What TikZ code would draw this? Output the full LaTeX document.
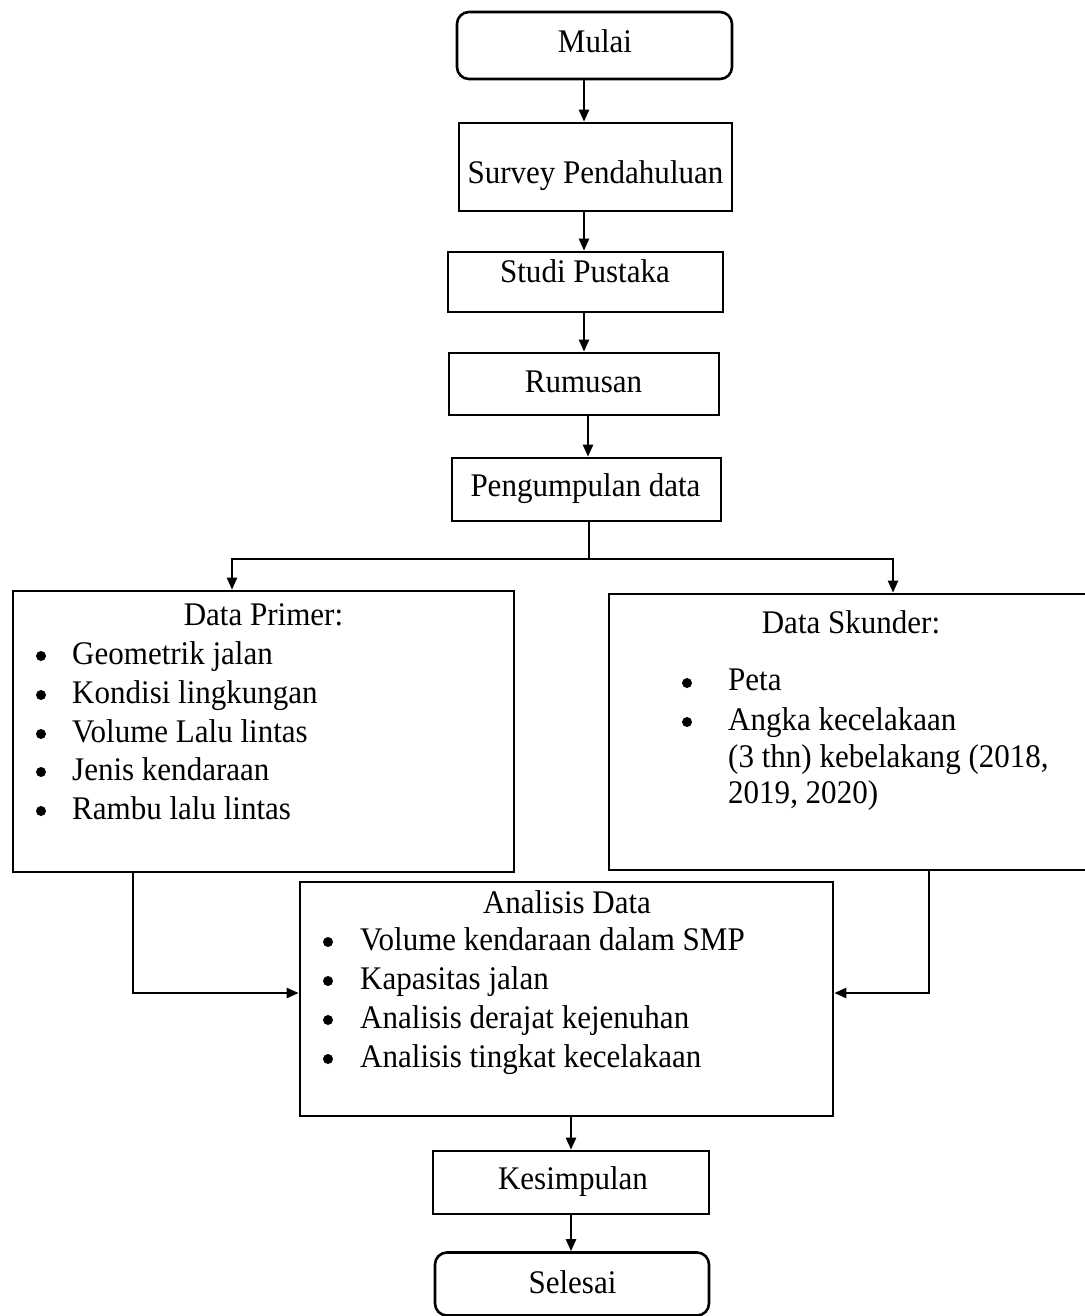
\documentclass[tikz,border=0pt]{standalone}
\usepackage{fontspec}
\setmainfont{Liberation Serif}[FakeStretch=0.94]
\usetikzlibrary{arrows.meta}
\begin{document}
\begin{tikzpicture}[x=1pt,y=-1pt,
  box/.style={draw, line width=2.6pt, inner sep=0pt},
  rbox/.style={box, rounded corners=12pt},
  txt/.style={font=\fontsize{33}{39}\selectfont, inner sep=0pt},
  bul/.style={circle, fill, inner sep=0pt, minimum size=10pt},
  arr/.style={line width=2.2pt, -{Triangle[length=12pt,width=10pt]}},
  ln/.style={line width=2.2pt}]
\useasboundingbox (0,0) rectangle (1084,1316);

% boxes
\node[rbox, minimum width=275pt, minimum height=67pt] (mulai) at (594.5,45.5) {};
\node[box, minimum width=273pt, minimum height=88pt] (survey) at (595.5,167) {};
\node[box, minimum width=275pt, minimum height=60pt] (studi) at (585.5,282) {};
\node[box, minimum width=270pt, minimum height=62pt] (rumusan) at (584,384) {};
\node[box, minimum width=269pt, minimum height=63pt] (kumpul) at (586.5,489.5) {};
\node[box, minimum width=501pt, minimum height=281pt] (primer) at (263.5,731.5) {};
\node[box, minimum width=481pt, minimum height=276pt] (skunder) at (849.5,732) {};
\node[box, minimum width=533pt, minimum height=234pt] (analisis) at (566.5,999) {};
\node[box, minimum width=276pt, minimum height=63pt] (kesimpulan) at (571,1182.5) {};
\node[rbox, minimum width=274pt, minimum height=63pt] (selesai) at (572,1284) {};

% simple texts
\node[txt, anchor=base] (tmulai) at (595,53) {Mulai};
\node[txt, anchor=base] (tsurvey) at (595.5,183) {Survey Pendahuluan};
\node[txt, anchor=base] (tstudi) at (585,282) {Studi Pustaka};
\node[txt, anchor=base] (trumusan) at (583.5,392) {Rumusan};
\node[txt, anchor=base] (tkumpul) at (585.5,496) {Pengumpulan data};
\node[txt, anchor=base] (tkesimpulan) at (573,1189) {Kesimpulan};
\node[txt, anchor=base] (tselesai) at (572.5,1293) {Selesai};

% Data Primer
\node[txt, anchor=base] (tprimer) at (263.5,625) {Data Primer:};
\node[bul] (pb1) at (41,656) {};
\node[bul] (pb2) at (41,695) {};
\node[bul] (pb3) at (41,734) {};
\node[bul] (pb4) at (41,772) {};
\node[bul] (pb5) at (41,811) {};
\node[txt, anchor=base west] (pt1) at (72,664) {Geometrik jalan};
\node[txt, anchor=base west] (pt2) at (72,703) {Kondisi lingkungan};
\node[txt, anchor=base west] (pt3) at (72,742) {Volume Lalu lintas};
\node[txt, anchor=base west] (pt4) at (72,780) {Jenis kendaraan};
\node[txt, anchor=base west] (pt5) at (72,819) {Rambu lalu lintas};

% Data Skunder
\node[txt, anchor=base] (tskunder) at (851,633) {Data Skunder:};
\node[bul] (sb1) at (687,683) {};
\node[bul] (sb2) at (687,722) {};
\node[txt, anchor=base west] (st1) at (728,690) {Peta};
\node[txt, anchor=base west] (st2) at (728,730) {Angka kecelakaan};
\node[txt, anchor=base west] (st3) at (728,767) {(3 thn) kebelakang (2018,};
\node[txt, anchor=base west] (st4) at (728,803) {2019, 2020)};

% Analisis Data
\node[txt, anchor=base] (tanalisis) at (567,913) {Analisis Data};
\node[bul] (ab1) at (328,942) {};
\node[bul] (ab2) at (328,981) {};
\node[bul] (ab3) at (328,1020) {};
\node[bul] (ab4) at (328,1059) {};
\node[txt, anchor=base west] (at1) at (360,950) {Volume kendaraan dalam SMP};
\node[txt, anchor=base west] (at2) at (360,989) {Kapasitas jalan};
\node[txt, anchor=base west] (at3) at (360,1028) {Analisis derajat kejenuhan};
\node[txt, anchor=base west] (at4) at (360,1067) {Analisis tingkat kecelakaan};

% helper coordinates
\coordinate (ax1) at (584,0);
\coordinate (ax2) at (588,0);
\coordinate (ax3) at (589,0);
\coordinate (ax4) at (571,0);
\coordinate (xl) at (232,0);
\coordinate (xr) at (893,0);
\coordinate (xlb) at (133,0);
\coordinate (xrb) at (929,0);
\coordinate (ybus) at (0,559);
\coordinate (yside) at (0,993);

% connectors
\draw[arr] (mulai.south -| ax1) -- (survey.north -| ax1);
\draw[arr] (survey.south -| ax1) -- (studi.north -| ax1);
\draw[arr] (studi.south -| ax1) -- (rumusan.north -| ax1);
\draw[arr] (rumusan.south -| ax2) -- (kumpul.north -| ax2);
\draw[ln] (kumpul.south -| ax3) -- (ax3 |- ybus);
\draw[arr] (ax3 |- ybus) -| (primer.north -| xl);
\draw[arr] (ax3 |- ybus) -| (skunder.north -| xr);
\draw[arr] (primer.south -| xlb) |- (analisis.west |- yside);
\draw[arr] (skunder.south -| xrb) |- (analisis.east |- yside);
\draw[arr] (analisis.south -| ax4) -- (kesimpulan.north -| ax4);
\draw[arr] (kesimpulan.south -| ax4) -- (selesai.north -| ax4);
\end{tikzpicture}
\end{document}
